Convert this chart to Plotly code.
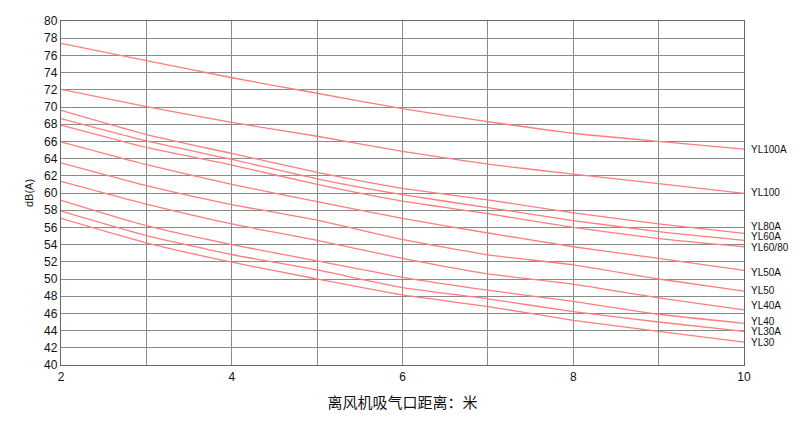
import plotly.graph_objects as go

distance = [2, 3, 4, 5, 6, 7, 8, 9, 10]

series_names = ["YL100A", "YL100", "YL80A", "YL60A", "YL60/80", "YL50A",
                "YL50", "YL40A", "YL40", "YL30A", "YL30"]

yl100a = [77.4, 75.4, 73.4, 71.6, 69.8, 68.3, 66.95, 66.0, 65.1]
yl100 = [72.05, 70.05, 68.2, 66.6, 64.85, 63.35, 62.2, 61.1, 59.95]
yl80a = [69.6, 66.8, 64.6, 62.4, 60.55, 59.2, 57.7, 56.4, 55.3]
yl60a = [68.65, 66.05, 63.9, 61.65, 59.8, 58.3, 56.8, 55.5, 54.5]
yl60_80 = [67.9, 65.3, 63.25, 61.0, 59.05, 57.6, 56.0, 54.7, 53.75]
yl50a = [65.95, 63.3, 61.0, 59.0, 57.05, 55.35, 53.75, 52.4, 51.0]
yl50 = [63.5, 60.85, 58.65, 56.85, 54.6, 52.8, 51.65, 50.0, 48.6]
yl40a = [61.35, 58.7, 56.4, 54.5, 52.4, 50.6, 49.4, 47.8, 46.4]
yl40 = [59.15, 56.2, 54.0, 52.1, 50.2, 48.7, 47.4, 45.9, 44.85]
yl30a = [57.9, 55.05, 52.85, 51.05, 49.0, 47.7, 46.2, 45.0, 43.9]
yl30 = [57.05, 54.2, 51.95, 50.0, 48.15, 46.8, 45.2, 43.9, 42.65]

all_series = [yl100a, yl100, yl80a, yl60a, yl60_80, yl50a, yl50, yl40a, yl40, yl30a, yl30]

# pixel nudges for the right-hand labels (style only)
label_shift = [0, 1, 7, 4, -1, -2, 1, 4, 2, 0, 0]

x_ticks = [2, 4, 6, 8, 10]
y_ticks = list(range(40, 81, 2))

line_color = "rgb(255,125,125)"
grid_color = "#8a8a8a"

fig = go.Figure()
for name, vals in zip(series_names, all_series):
    fig.add_trace(go.Scatter(x=distance, y=vals, mode="lines", name=name,
                             line=dict(color=line_color, width=1.3, shape="spline", smoothing=0.5),
                             showlegend=False, hoverinfo="x+y+name"))

for name, vals, sh in zip(series_names, all_series, label_shift):
    fig.add_annotation(x=distance[-1], y=vals[-1], xref="x", yref="y", text=name,
                       showarrow=False, xanchor="left", yanchor="middle", xshift=5, yshift=sh,
                       font=dict(family="Liberation Sans, Arial", size=10, color="#111"))

fig.update_layout(
    width=784, height=406,
    margin=dict(l=53, r=48, t=6, b=48),
    paper_bgcolor="white", plot_bgcolor="white",
    font=dict(family="Liberation Sans, Arial", size=12, color="#111"),
    xaxis=dict(range=[2, 10], tickvals=x_ticks, ticktext=[str(v) for v in x_ticks],
               showgrid=True, gridcolor=grid_color, gridwidth=1.3,
               minor=dict(dtick=1, showgrid=True, gridcolor=grid_color, gridwidth=1.3),
               showline=True, linecolor="#666", linewidth=1.3, mirror=True,
               ticks="", zeroline=False, ticklabeloverflow="allow",
               title=dict(text="离风机吸气口距离：米", standoff=14,
                          font=dict(family="Noto Sans CJK SC", size=15, color="#111"))),
    yaxis=dict(range=[40, 80], tickvals=y_ticks, ticktext=[str(v) for v in y_ticks],
               showgrid=True, gridcolor=grid_color, gridwidth=1.3,
               showline=True, linecolor="#666", linewidth=1.3, mirror=True,
               ticks="", zeroline=False, ticklabeloverflow="allow",
               title=dict(text="dB(A)", standoff=8,
                          font=dict(family="Liberation Sans, Arial", size=11, color="#111"))),
)

fig.write_html("out.html")
